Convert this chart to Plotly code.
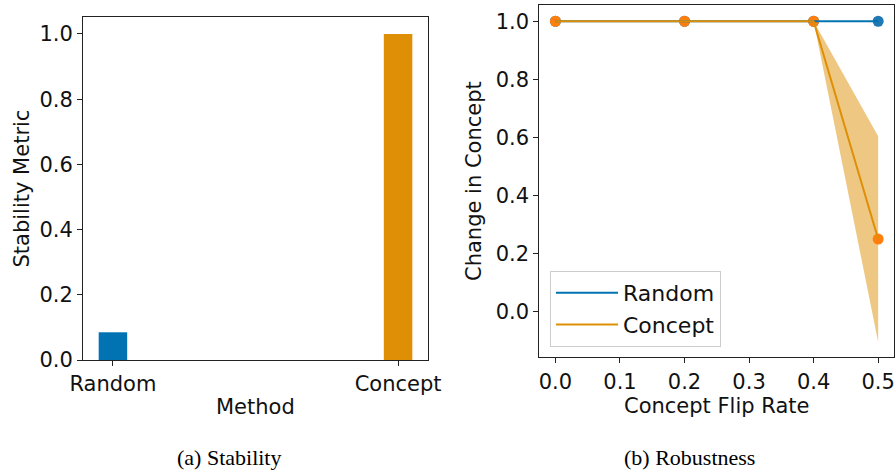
import plotly.graph_objects as go

# ---- data ----
methods = ["Random", "Concept"]
stability = [0.085, 1.0]

flip_rates = [0.0, 0.2, 0.4, 0.5]
random_change = [1.0, 1.0, 1.0, 1.0]
concept_change = [1.0, 1.0, 1.0, 0.25]
concept_std = [0.0, 0.0, 0.0, 0.354]

x_ticks_right = [0.0, 0.1, 0.2, 0.3, 0.4, 0.5]
y_ticks_left = [0.0, 0.2, 0.4, 0.6, 0.8, 1.0]
y_ticks_right = [0.0, 0.2, 0.4, 0.6, 0.8, 1.0]

W, H = 895, 472
BLUE = "#0173b2"
ORANGE = "#de8f05"
MBLUE = "#1f77b4"
MORANGE = "#ff7f0e"
FONT = "DejaVu Sans"
FS = 21


def px_x(p):
    return p / W


def px_y(p):
    return 1 - p / H


fig = go.Figure()

# left: bars
fig.add_trace(go.Bar(x=[0, 1], y=stability, width=0.1,
                     marker=dict(color=[BLUE, ORANGE], line=dict(width=0)),
                     xaxis="x", yaxis="y", showlegend=False))

# right: fill band
upper = [m + s for m, s in zip(concept_change, concept_std)]
lower = [m - s for m, s in zip(concept_change, concept_std)]
fig.add_trace(go.Scatter(x=flip_rates, y=upper, mode="lines", line=dict(width=0),
                         xaxis="x2", yaxis="y2", showlegend=False, hoverinfo="skip"))
fig.add_trace(go.Scatter(x=flip_rates, y=lower, mode="lines", line=dict(width=0),
                         fill="tonexty", fillcolor="rgba(222,143,5,0.5)",
                         xaxis="x2", yaxis="y2", showlegend=False, hoverinfo="skip"))
# markers
fig.add_trace(go.Scatter(x=flip_rates, y=random_change, mode="markers",
                         marker=dict(color=MBLUE, size=11), xaxis="x2", yaxis="y2",
                         showlegend=False))
fig.add_trace(go.Scatter(x=flip_rates, y=concept_change, mode="markers",
                         marker=dict(color=MORANGE, size=11), xaxis="x2", yaxis="y2",
                         showlegend=False))
# lines
fig.add_trace(go.Scatter(x=flip_rates, y=random_change, mode="lines", name="Random",
                         legendgroup="r", line=dict(color=BLUE, width=2),
                         xaxis="x2", yaxis="y2"))
fig.add_trace(go.Scatter(x=flip_rates, y=concept_change, mode="lines", name="Concept",
                         legendgroup="c", line=dict(color=ORANGE, width=2),
                         xaxis="x2", yaxis="y2"))

axis_common = dict(showline=True, linecolor="#222", linewidth=1, mirror=True,
                   ticks="outside", ticklen=5, tickwidth=1, tickcolor="#222",
                   showgrid=False, zeroline=False, automargin=False,
                   tickfont=dict(family=FONT, size=FS, color="#111"))

fig.update_layout(
    width=W, height=H,
    margin=dict(l=0, r=0, t=0, b=0),
    paper_bgcolor="white", plot_bgcolor="white",
    xaxis=dict(domain=[px_x(83), px_x(428)], range=[-0.105, 1.105],
               tickvals=[0, 1], ticktext=methods, anchor="y", **axis_common),
    yaxis=dict(domain=[px_y(360), px_y(17)], range=[0, 1.052],
               tickvals=y_ticks_left, tickformat=".1f", anchor="x", **axis_common),
    xaxis2=dict(domain=[px_x(539.3), px_x(894.3)], range=[-0.025, 0.525],
                tickvals=x_ticks_right, tickformat=".1f", anchor="y2", **axis_common),
    yaxis2=dict(domain=[px_y(357.3), px_y(4.7)], range=[-0.157, 1.057],
                tickvals=y_ticks_right, tickformat=".1f", anchor="x2", **axis_common),
    legend=dict(x=px_x(550), y=px_y(347), xanchor="left", yanchor="bottom",
                bgcolor="rgba(255,255,255,0.8)", bordercolor="#cccccc", borderwidth=1,
                font=dict(family=FONT, size=22, color="#111"),
                itemwidth=62, tracegroupgap=3, traceorder="normal"),
    showlegend=True,
)

ann = [
    dict(text="Stability Metric", x=px_x(21), y=px_y(188.5), textangle=-90,
         font=dict(family=FONT, size=FS, color="#111")),
    dict(text="Method", x=px_x(256), y=px_y(407),
         font=dict(family=FONT, size=FS, color="#111")),
    dict(text="Change in Concept", x=px_x(474), y=px_y(181), textangle=-90,
         font=dict(family=FONT, size=FS, color="#111")),
    dict(text="Concept Flip Rate", x=px_x(716.8), y=px_y(406),
         font=dict(family=FONT, size=FS, color="#111")),
    dict(text="(a) Stability", x=px_x(229), y=px_y(457),
         font=dict(family="Liberation Serif", size=22, color="#000")),
    dict(text="(b) Robustness", x=px_x(689), y=px_y(457),
         font=dict(family="Liberation Serif", size=22, color="#000")),
]
for a in ann:
    a.update(xref="paper", yref="paper", showarrow=False, xanchor="center", yanchor="middle")
fig.update_layout(annotations=ann)

fig.write_html("out.html", config={"displayModeBar": False},
               post_script="document.body.style.margin='0';"
                           "document.body.style.overflow='hidden';")
